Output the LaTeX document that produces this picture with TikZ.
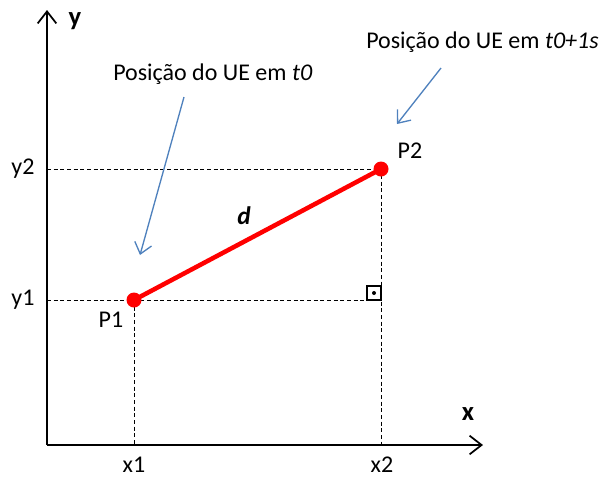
\documentclass[tikz,border=0pt]{standalone}
\usepackage{fontspec}
\setmainfont{Carlito}
\usetikzlibrary{arrows.meta}
\definecolor{uered}{RGB}{255,0,0}
\definecolor{pointer}{RGB}{79,129,189}
\tikzset{
  axis/.style={line width=1.5pt,-{Straight Barb[length=9pt,width=14pt,line width=1.3pt]}},
  guide/.style={line width=0.6pt,dash pattern=on 3pt off 2pt},
  pointer/.style={color=pointer,line width=1pt,-{Straight Barb[length=8pt,width=13pt,line width=1pt]}},
  lbl/.style={font=\fontsize{18}{21}\selectfont,inner sep=0pt}
}
\begin{document}
\begin{tikzpicture}[x=0.75pt,y=-0.75pt]
\useasboundingbox (0,0) rectangle (614,480);
\coordinate (O) at (47,445);
\coordinate (ytop) at (47,10);
\coordinate (xend) at (483,445);
\coordinate (P1) at (134,300);
\coordinate (P2) at (381,169);
\coordinate (X1) at (134,445);
\coordinate (X2) at (381,445);
\coordinate (Y1) at (47,300);
\coordinate (Y2) at (47,169);
\coordinate (C) at (381,300);
% axes
\draw[axis] (O)--(ytop);
\draw[axis] (O)--(xend);
\node[lbl,font=\fontsize{20}{22}\selectfont\bfseries] (ylab) at (75,21) {y};
\node[lbl,font=\fontsize{20}{22}\selectfont\bfseries] (xlab) at (468,414) {x};
% guides
\draw[guide] (Y2)--(P2)--(X2);
\draw[guide] (Y1)--(C);
\draw[guide] (P1)--(X1);
\draw[line width=0.8pt] (367,286) rectangle (381,300);
\fill (374,293) circle (2);
% tick labels
\node[lbl] (y2) at (23,169) {y2};
\node[lbl] (y1) at (23,300) {y1};
\node[lbl] (x1) at (134,465) {x1};
\node[lbl] (x2) at (382,465) {x2};
% segment
\draw[uered,line width=3.4pt] (P1)--(P2);
\fill[uered] (P1) circle (7.5);
\fill[uered] (P2) circle (7.5);
\node[lbl] (p1) at (111,320) {P1};
\node[lbl] (p2) at (410,151) {P2};
\node[lbl,font=\fontsize{19}{21}\selectfont\bfseries\itshape] (d) at (244,216) {d};
% pointers
\node[lbl,anchor=west] (t0) at (113,74) {Posição do UE em \textit{t0}};
\node[lbl,anchor=west] (t1) at (366,42) {Posição do UE em \textit{t0+1s}};
\coordinate (a0) at (184,97);
\coordinate (b0) at (140,255);
\coordinate (a1) at (441,68);
\coordinate (b1) at (397,124);
\draw[pointer] (a0)--(b0);
\draw[pointer] (a1)--(b1);
\end{tikzpicture}
\end{document}
